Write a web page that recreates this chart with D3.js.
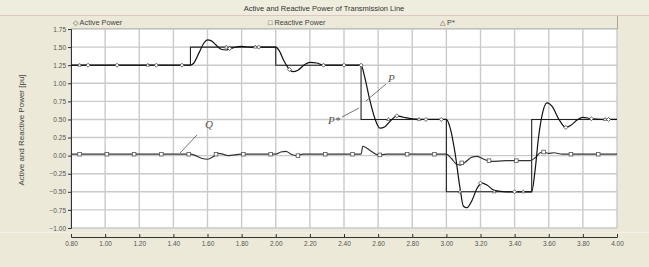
<!DOCTYPE html>
<html>
<head>
<meta charset="utf-8">
<script src="https://cdn.jsdelivr.net/npm/d3@7"></script>
<style>
  body { margin: 0; background: #ece9d8; }
  svg { display: block; font-family: "Liberation Sans", Arial, sans-serif; }
</style>
</head>
<body>
<div id="chart"></div>
<script>
// tick labels
const xTicks = [0.8, 1.0, 1.2, 1.4, 1.6, 1.8, 2.0, 2.2, 2.4, 2.6, 2.8, 3.0, 3.2, 3.4, 3.6, 3.8, 4.0];
const yTicks = [1.75, 1.5, 1.25, 1.0, 0.75, 0.5, 0.25, 0.0, -0.25, -0.5, -0.75, -1.0];

// P* reference (step)
const pRef = [
  [0.8, 1.25], [1.5, 1.25], [1.5, 1.5], [2.0, 1.5], [2.0, 1.25], [2.5, 1.25],
  [2.5, 0.5], [3.0, 0.5], [3.0, -0.5], [3.5, -0.5], [3.5, 0.5], [4.0, 0.5]
];

// active power P
const pAct = [
  [0.8, 1.25], [1.5, 1.25], [1.52, 1.28], [1.55, 1.42], [1.58, 1.56], [1.6, 1.6],
  [1.62, 1.59], [1.65, 1.53], [1.68, 1.47], [1.71, 1.46], [1.75, 1.49], [1.8, 1.51],
  [1.85, 1.5], [2.0, 1.5], [2.02, 1.45], [2.05, 1.3], [2.08, 1.19], [2.1, 1.16],
  [2.13, 1.18], [2.17, 1.26], [2.2, 1.29], [2.24, 1.28], [2.28, 1.25], [2.5, 1.25],
  [2.52, 1.1], [2.55, 0.78], [2.58, 0.52], [2.61, 0.38], [2.64, 0.4], [2.68, 0.5],
  [2.71, 0.55], [2.75, 0.53], [2.8, 0.51], [2.9, 0.5], [3.0, 0.5], [3.02, 0.4],
  [3.05, 0.05], [3.08, -0.45], [3.1, -0.7], [3.12, -0.72], [3.15, -0.62], [3.18, -0.45],
  [3.21, -0.38], [3.24, -0.41], [3.28, -0.48], [3.35, -0.5], [3.5, -0.5], [3.52, -0.2],
  [3.54, 0.25], [3.56, 0.55], [3.59, 0.73], [3.62, 0.68], [3.66, 0.5], [3.7, 0.39],
  [3.73, 0.42], [3.77, 0.5], [3.8, 0.53], [3.85, 0.51], [4.0, 0.5]
];

// reactive power Q
const qReact = [
  [0.8, 0.02], [1.5, 0.02], [1.53, 0.0], [1.57, -0.04], [1.6, -0.05], [1.63, -0.02],
  [1.66, 0.03], [1.69, 0.02], [1.72, 0.0], [1.8, 0.02], [2.0, 0.02], [2.03, 0.05],
  [2.06, 0.06], [2.09, 0.02], [2.12, 0.0], [2.16, 0.02], [2.5, 0.02], [2.51, 0.13],
  [2.53, 0.11], [2.56, 0.06], [2.6, 0.01], [2.65, 0.02], [3.0, 0.02], [3.03, -0.04],
  [3.06, -0.12], [3.08, -0.13], [3.11, -0.09], [3.15, -0.02], [3.18, -0.01], [3.22, -0.05],
  [3.26, -0.08], [3.35, -0.07], [3.49, -0.07], [3.52, -0.03], [3.55, 0.04], [3.57, 0.05],
  [3.6, 0.03], [3.63, 0.04], [3.68, 0.02], [4.0, 0.02]
];

// marker positions
const qMarks = [
  [0.85, 0.02], [1.01, 0.02], [1.17, 0.02], [1.33, 0.02], [1.49, 0.02], [1.65, 0.02],
  [1.81, 0.02], [1.97, 0.02], [2.13, 0.0], [2.29, 0.02], [2.45, 0.02], [2.61, 0.01],
  [2.77, 0.02], [2.93, 0.02], [3.09, -0.1], [3.25, -0.07], [3.41, -0.07], [3.57, 0.05],
  [3.73, 0.02], [3.89, 0.02]
];
const pMarks = [
  [0.9, 1.25], [1.07, 1.25], [1.3, 1.25], [1.45, 1.25], [1.73, 1.48], [1.9, 1.5],
  [2.08, 1.19], [2.28, 1.25], [2.4, 1.25], [2.5, 1.25], [2.71, 0.55], [2.88, 0.5],
  [2.97, 0.5], [3.2, -0.38], [3.4, -0.5], [3.7, 0.39], [3.85, 0.51], [3.95, 0.5]
];
const refMarks = [
  [0.85, 1.25], [1.25, 1.25], [1.71, 1.5], [1.88, 1.5], [2.66, 0.5], [2.84, 0.5],
  [3.08, -0.5], [3.28, -0.5], [3.45, -0.5], [3.93, 0.5]
];

const W = 649, H = 267;
const svg = d3.select("#chart").append("svg").attr("width", W).attr("height", H);

svg.append("rect").attr("width", W).attr("height", H).attr("fill", "#ece9d8");

// title bar
svg.append("rect").attr("x", 0).attr("y", 0).attr("width", W).attr("height", 15).attr("fill", "#efedde");
svg.append("line").attr("x1", 0).attr("x2", W).attr("y1", 15.5).attr("y2", 15.5)
  .attr("stroke", "#e2c4c4").attr("stroke-width", 1);
svg.append("text").attr("x", 324).attr("y", 10.5).attr("text-anchor", "middle")
  .style("font-size", "7.5px").style("fill", "#333")
  .text("Active and Reactive Power of Transmission Line");

const x = d3.scaleLinear().domain([0.8, 4.0]).range([71, 617]);
const y = d3.scaleLinear().domain([-1.0, 1.75]).range([228, 29]);

// legend row
svg.append("rect").attr("x", 71).attr("y", 16).attr("width", 546).attr("height", 13).attr("fill", "#ece9d8");
svg.append("line").attr("x1", 71).attr("x2", 618).attr("y1", 28.5).attr("y2", 28.5).attr("stroke", "#a8a598");
svg.append("line").attr("x1", 617.5).attr("x2", 617.5).attr("y1", 16).attr("y2", 29).attr("stroke", "#a8a598");
const legendItems = [
  { label: "\u25C7 Active Power", xPos: 73 },
  { label: "\u25A1 Reactive Power", xPos: 268 },
  { label: "\u25B3 P*", xPos: 440 }
];
svg.selectAll(".leg").data(legendItems).enter().append("text")
  .attr("class", "leg").attr("x", (d) => d.xPos).attr("y", 25)
  .style("font-size", "7.3px").style("fill", "#444").text((d) => d.label);

// plot area
svg.append("rect").attr("x", 71).attr("y", 29).attr("width", 546).attr("height", 199).attr("fill", "#fff");

// grid
svg.selectAll(".vgrid").data(xTicks).enter().append("line")
  .attr("x1", (d) => x(d)).attr("x2", (d) => x(d)).attr("y1", 29).attr("y2", 228)
  .attr("stroke", "#cacaca").attr("stroke-width", 1.4);
svg.selectAll(".hgrid").data(yTicks).enter().append("line")
  .attr("x1", 71).attr("x2", 617).attr("y1", (d) => y(d)).attr("y2", (d) => y(d))
  .attr("stroke", "#cacaca").attr("stroke-width", 1.4);

// y axis
const yAxis = d3.axisLeft(y).tickValues(yTicks).tickFormat(d3.format(".2f")).tickSize(3);
const gy = svg.append("g").attr("transform", "translate(71,0)").call(yAxis);
gy.select(".domain").attr("stroke", "#333");
gy.selectAll(".tick line").attr("stroke", "#333");
gy.selectAll("text").style("font-size", "6.5px").style("fill", "#555").attr("x", -5);

// x axis (separate strip)
svg.append("line").attr("x1", 0).attr("x2", W).attr("y1", 232.5).attr("y2", 232.5).attr("stroke", "#f6efe8");
const xAxis = d3.axisTop(x).tickValues(xTicks).tickFormat(d3.format(".2f")).tickSize(3).tickSizeOuter(3);
const gx = svg.append("g").attr("transform", "translate(0,237)").call(xAxis);
gx.select(".domain").attr("stroke", "#333");
gx.selectAll(".tick line").attr("stroke", "#333");
gx.selectAll("text").attr("y", 9).attr("dy", 0).style("font-size", "6.5px").style("fill", "#555");

// y axis title
svg.append("text").attr("transform", "translate(24,130) rotate(-90)").attr("text-anchor", "middle")
  .style("font-size", "8px").style("fill", "#444").text("Active and Reactive Power [pu]");

// lines
const line = d3.line().x((d) => x(d[0])).y((d) => y(d[1]));
const smooth = d3.line().x((d) => x(d[0])).y((d) => y(d[1])).curve(d3.curveMonotoneX);

svg.append("path").attr("d", line(pRef)).attr("fill", "none").attr("stroke", "#222").attr("stroke-width", 1.1);
svg.append("path").attr("d", smooth(qReact)).attr("fill", "none").attr("stroke", "#333").attr("stroke-width", 1.2);
svg.append("path").attr("d", smooth(pAct)).attr("fill", "none").attr("stroke", "#111").attr("stroke-width", 1.2);

// markers
svg.selectAll(".qm").data(qMarks).enter().append("rect")
  .attr("x", (d) => x(d[0]) - 1.8).attr("y", (d) => y(d[1]) - 1.8).attr("width", 3.6).attr("height", 3.6)
  .attr("fill", "#fff").attr("stroke", "#555").attr("stroke-width", 0.8);
svg.selectAll(".pm").data(pMarks).enter().append("path")
  .attr("d", d3.symbol(d3.symbolDiamond2, 10))
  .attr("transform", (d) => `translate(${x(d[0])},${y(d[1])})`)
  .attr("fill", "#fff").attr("stroke", "#444").attr("stroke-width", 0.8);
svg.selectAll(".rm").data(refMarks).enter().append("path")
  .attr("d", d3.symbol(d3.symbolTriangle2, 9))
  .attr("transform", (d) => `translate(${x(d[0])},${y(d[1])})`)
  .attr("fill", "#fff").attr("stroke", "#555").attr("stroke-width", 0.7);

// annotations
const notes = [
  { t: "Q", lx: 205, ly: 128, a: [[197, 135], [180, 153]] },
  { t: "P", lx: 388, ly: 82, a: [[386, 84], [366, 101]] },
  { t: "P*", lx: 328, ly: 124, a: [[342, 117], [359, 108]] }
];
notes.forEach((n) => {
  svg.append("line").attr("x1", n.a[0][0]).attr("y1", n.a[0][1]).attr("x2", n.a[1][0]).attr("y2", n.a[1][1])
    .attr("stroke", "#666").attr("stroke-width", 0.9);
  svg.append("text").attr("x", n.lx).attr("y", n.ly)
    .style("font-family", "'Liberation Serif', serif").style("font-style", "italic")
    .style("font-size", "11px").style("fill", "#555").text(n.t);
});
</script>
</body>
</html>
